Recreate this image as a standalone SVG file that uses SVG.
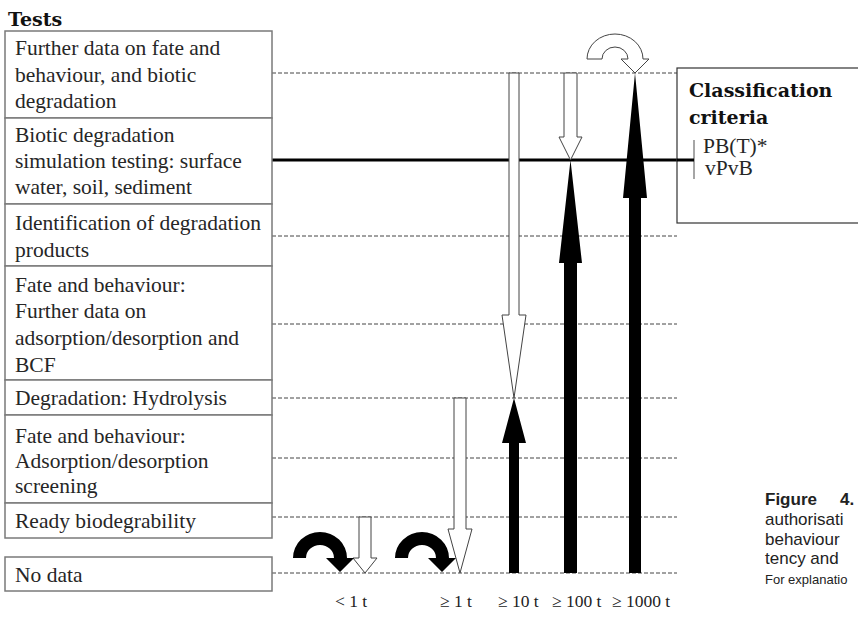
<svg xmlns="http://www.w3.org/2000/svg" width="858" height="617" viewBox="0 0 858 617">
<style>
.box{fill:#fff;stroke:#7a7a7a;stroke-width:1.5}
.t{font-family:"Liberation Serif","Times New Roman",serif;font-size:21.5px;fill:#262626}
.h{font-family:"DejaVu Serif",serif;font-weight:bold;font-size:19px;fill:#111}
.lab{font-family:"Liberation Serif","Times New Roman",serif;font-size:17.5px;fill:#222}
.cap{font-family:"Liberation Sans",Arial,sans-serif;font-size:17px;fill:#222}
.capb{font-weight:bold}
.caps{font-size:13px}
.dash{stroke:#444;stroke-width:1;stroke-dasharray:4 2;fill:none}
.open{fill:#fff;stroke:#444;stroke-width:1}
.solid{fill:#000;stroke:none}
</style>
<rect width="858" height="617" fill="#fff"/>
<text class="h" x="8" y="26">Tests</text>

<g id="connectors">
  <g id="guides">
    <line class="dash" x1="272" y1="73" x2="677" y2="73"/>
    <line class="dash" x1="272" y1="236" x2="677" y2="236"/>
    <line class="dash" x1="272" y1="324" x2="677" y2="324"/>
    <line class="dash" x1="272" y1="398" x2="677" y2="398"/>
    <line class="dash" x1="272" y1="458" x2="677" y2="458"/>
    <line class="dash" x1="272" y1="517" x2="677" y2="517"/>
    <line class="dash" x1="272" y1="573" x2="677" y2="573"/>
    <line x1="272" y1="160" x2="694" y2="160" stroke="#000" stroke-width="3"/>
  </g>
  <path class="open" d="M509 73 L519 73 L519 315 L526 315 L514 398 L502 315 L509 315 Z"/>
  <path class="open" d="M564 73 L577 73 L577 137 L582 137 L570.5 160 L559 137 L564 137 Z"/>
  <path class="open" d="M454 398 L466 398 L466 529 L472 529 L460 573 L448 529 L454 529 Z"/>
  <path class="open" d="M359 517 L371 517 L371 558 L377 558 L365 573 L353 558 L359 558 Z"/>
  <path class="solid" d="M509 573 L519 573 L519 443 L526 443 L514 398 L502 443 L509 443 Z"/>
  <path class="solid" d="M564 573 L577 573 L577 263 L582 263 L570.5 160 L559 263 L564 263 Z"/>
  <path class="solid" d="M629 573 L641 573 L641 198 L647 198 L635 73 L623 198 L629 198 Z"/>
  <path class="open" d="M587 59 A28 25 0 0 1 643 59 L649 59 L635 73 L621 59 L628 59 A13 12 0 0 0 602 59 Z"/>
  <path class="solid" d="M293 558 A27 26 0 0 1 347 558 L354 558 L340 572 L326 558 L334 558 A14 13 0 0 0 306 558 Z"/>
  <path class="solid" d="M395 558 A27 26 0 0 1 449 558 L456 558 L442 572 L428 558 L436 558 A14 13 0 0 0 408 558 Z"/>
</g>

<g id="n1"><rect class="box" x="5" y="31" width="267" height="87"/>
<text class="t" x="15" y="55">Further data on fate and</text>
<text class="t" x="15" y="82">behaviour, and biotic</text>
<text class="t" x="15" y="108">degradation</text></g>
<g id="n2"><rect class="box" x="5" y="118" width="267" height="86"/>
<text class="t" x="15" y="142">Biotic degradation</text>
<text class="t" x="15" y="168">simulation testing: surface</text>
<text class="t" x="15" y="194">water, soil, sediment</text></g>
<g id="n3"><rect class="box" x="5" y="204" width="267" height="62"/>
<text class="t" x="15" y="230">Identification of degradation</text>
<text class="t" x="15" y="257">products</text></g>
<g id="n4"><rect class="box" x="5" y="266" width="267" height="114"/>
<text class="t" x="15" y="292">Fate and behaviour:</text>
<text class="t" x="15" y="318">Further data on</text>
<text class="t" x="15" y="345">adsorption/desorption and</text>
<text class="t" x="15" y="372">BCF</text></g>
<g id="n5"><rect class="box" x="5" y="380" width="267" height="35"/>
<text class="t" x="15" y="405">Degradation: Hydrolysis</text></g>
<g id="n6"><rect class="box" x="5" y="415" width="267" height="88"/>
<text class="t" x="15" y="443">Fate and behaviour:</text>
<text class="t" x="15" y="468">Adsorption/desorption</text>
<text class="t" x="15" y="493">screening</text></g>
<g id="n7"><rect class="box" x="5" y="503" width="267" height="35"/>
<text class="t" x="15" y="528">Ready biodegrability</text></g>
<g id="n8"><rect class="box" x="5" y="557" width="267" height="34"/>
<text class="t" x="15" y="582">No data</text></g>

<g id="criteria"><rect x="677" y="68" width="200" height="155" fill="#fff" stroke="#333" stroke-width="1.2"/>
<text class="h" x="689" y="97">Classification</text>
<text class="h" x="689" y="124">criteria</text>
<line x1="694" y1="140" x2="694" y2="179" stroke="#888" stroke-width="1.5"/>
<line x1="677" y1="160" x2="694" y2="160" stroke="#000" stroke-width="3"/>
<text class="t" x="703" y="153">PB(T)*</text>
<text class="t" x="705" y="175">vPvB</text></g>

<g id="labels">
<text class="lab" x="335" y="607">&lt; 1 t</text>
<text class="lab" x="440" y="607">≥ 1 t</text>
<text class="lab" x="498" y="607">≥ 10 t</text>
<text class="lab" x="552" y="607">≥ 100 t</text>
<text class="lab" x="612" y="607">≥ 1000 t</text>
</g>

<g id="caption">
<text class="cap capb" x="765" y="505">Figure</text>
<text class="cap capb" x="840" y="505">4.</text>
<text class="cap" x="765" y="525">authorisati</text>
<text class="cap" x="765" y="545">behaviour</text>
<text class="cap" x="765" y="564">tency and</text>
<text class="cap caps" x="765" y="584">For explanatio</text>
</g>
</svg>
